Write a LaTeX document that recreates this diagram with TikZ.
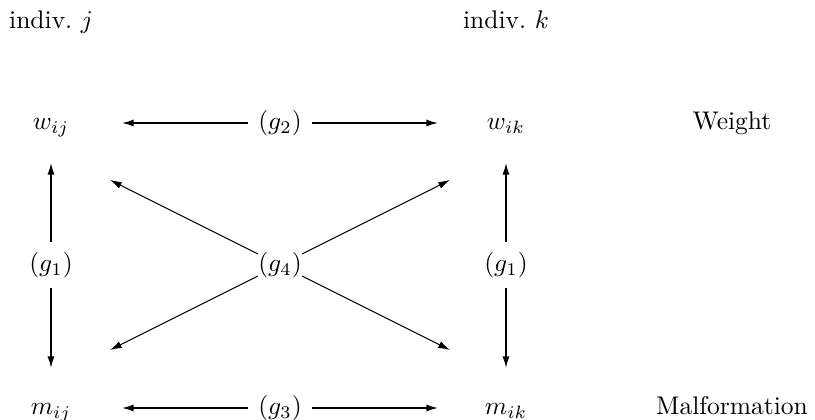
\documentclass[tikz,border=0pt]{standalone}
\usetikzlibrary{arrows.meta}
\begin{document}
\begin{tikzpicture}[x=0.392pt,y=-0.392pt,
  txt/.style={anchor=base, inner sep=0pt},
  gl/.style={inner sep=4pt},
  gc/.style={inner sep=0pt},
  arr/.style={-{Latex[length=4.6pt,width=2.8pt]}, line width=0.6pt},
  diag/.style={-{Latex[length=4.6pt,width=2.8pt]}, line width=0.4pt}]
\useasboundingbox (0,0) rectangle (815,420);
% column and row texts
\node[txt] (ij) at (51,29) {indiv.\ $j$};
\node[txt] (ik) at (506,29) {indiv.\ $k$};
\node[txt] (wij) at (51,130) {$w_{ij}$};
\node[txt] (wik) at (506,130) {$w_{ik}$};
\node[txt] (mij) at (51,415) {$m_{ij}$};
\node[txt] (mik) at (506,415) {$m_{ik}$};
\node[txt] (wt) at (732,130) {Weight};
\node[txt] (mf) at (732,415) {Malformation};
% relation labels
\node[gl] (g2) at (280,123) {$(g_2)$};
\node[gl] (g3) at (280,408) {$(g_3)$};
\node[gl] (g1l) at (51,265) {$(g_1)$};
\node[gl] (g1r) at (506,265) {$(g_1)$};
\node[gc] (g4) at (280,265) {$(g_4)$};
% arrow tips
\coordinate (aL) at (122,123);
\coordinate (aR) at (438,123);
\coordinate (bL) at (122,408);
\coordinate (bR) at (438,408);
\coordinate (vLu) at (51,163);
\coordinate (vLd) at (51,368);
\coordinate (vRu) at (506,163);
\coordinate (vRd) at (506,368);
\coordinate (dUL) at (110,180);
\coordinate (dUR) at (450,180);
\coordinate (dLL) at (110,350);
\coordinate (dLR) at (450,350);
% connectors
\draw[arr] (g2) -- (aL);
\draw[arr] (g2) -- (aR);
\draw[arr] (g3) -- (bL);
\draw[arr] (g3) -- (bR);
\draw[arr] (g1l) -- (vLu);
\draw[arr] (g1l) -- (vLd);
\draw[arr] (g1r) -- (vRu);
\draw[arr] (g1r) -- (vRd);
\draw[diag] (g4) -- (dUL);
\draw[diag] (g4) -- (dUR);
\draw[diag] (g4) -- (dLL);
\draw[diag] (g4) -- (dLR);
\end{tikzpicture}
\end{document}
